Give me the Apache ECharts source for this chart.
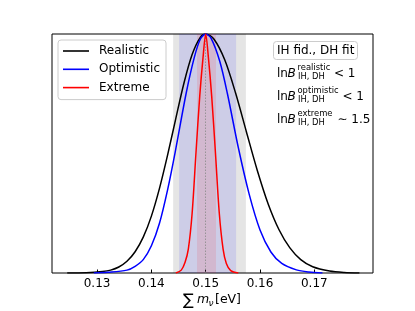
<!DOCTYPE html>
<html>
<head>
<meta charset="utf-8">
<script src="https://cdn.jsdelivr.net/npm/echarts@6/dist/echarts.min.js"></script>
<style>
html,body{margin:0;padding:0;background:#fff;}
#chart{width:415px;height:311px;}
</style>
</head>
<body>
<div id="chart"></div>
<script>
// ---- data ----
const xTicks = [0.13, 0.14, 0.15, 0.16, 0.17];
const seriesNames = ['Realistic', 'Optimistic', 'Extreme'];

const realistic = [
  [0.1245,0.000],[0.1280,0.001],[0.1310,0.006],[0.1325,0.012],[0.1340,0.025],
  [0.1355,0.049],[0.1370,0.089],[0.1385,0.150],[0.1400,0.238],[0.1415,0.355],
  [0.1430,0.495],[0.1445,0.647],[0.1460,0.795],[0.1475,0.914],[0.1490,0.986],
  [0.1500,1.000],[0.1515,0.979],[0.1535,0.892],[0.1555,0.753],[0.1575,0.590],
  [0.1595,0.429],[0.1615,0.289],[0.1635,0.181],[0.1655,0.105],[0.1675,0.056],
  [0.1697,0.026],[0.1728,0.008],[0.1755,0.002],[0.1783,0.000]
];
const optimistic = [
  [0.1294,0.000],[0.1320,0.003],[0.1355,0.012],[0.1370,0.028],[0.1385,0.056],
  [0.1400,0.114],[0.1415,0.209],[0.1430,0.350],[0.1444,0.508],[0.1464,0.752],
  [0.1479,0.902],[0.1490,0.978],[0.1500,1.000],[0.1510,0.982],[0.1526,0.885],
  [0.1540,0.750],[0.1560,0.525],[0.1580,0.330],[0.1600,0.180],[0.1620,0.088],
  [0.1640,0.040],[0.1667,0.013],[0.1690,0.004],[0.1715,0.000]
];
const extreme = [
  [0.1445,0.000],[0.1455,0.012],[0.1462,0.045],[0.1468,0.100],[0.1475,0.250],
  [0.1482,0.500],[0.1489,0.740],[0.1495,0.900],[0.1500,1.000],[0.1505,0.900],
  [0.1511,0.740],[0.1518,0.500],[0.1525,0.250],[0.1532,0.100],[0.1538,0.040],
  [0.1546,0.010],[0.1560,0.000]
];
const realisticBand = [0.1440, 0.1574];
const optimisticBand = [0.1451, 0.1556];
const extremeBand = [0.1484, 0.1519];
const meanValue = 0.15;
const xRange = [0.1217, 0.1808];

// ---- chart ----
const FONT = 'DejaVu Sans';
const chart = echarts.init(document.getElementById('chart'), null, {renderer: 'canvas'});

function lineSeries(name, data, color, z) {
  return {
    name: name, type: 'line', data: data, symbol: 'none', showSymbol: false,
    smooth: 0.3, z: z, silent: true,
    lineStyle: {color: color, width: 1.5}, itemStyle: {color: color}
  };
}

const mainY = [73.5, 97, 119.5];
const supTexts = ['realistic', 'optimistic', 'extreme'];
const relTexts = ['< 1', '< 1', '\u223C 1.5'];
const relX = [334, 342.5, 337.5];
const graphics = [];
// "IH fid., DH fit" box
graphics.push({type: 'rect', shape: {x: 273.5, y: 41.5, width: 84, height: 18, r: 3},
  style: {fill: '#fff', stroke: '#cccccc', lineWidth: 1}, z: 100});
graphics.push({type: 'text', x: 277, y: 50.7, z: 101,
  style: {text: 'IH fid., DH fit', font: '12px "' + FONT + '"', fill: '#000', verticalAlign: 'middle'}});
for (let i = 0; i < 3; i++) {
  const y = mainY[i];
  graphics.push({type: 'text', x: 277, y: y, z: 101,
    style: {text: 'ln', font: '12px "' + FONT + '"', fill: '#000', verticalAlign: 'middle'}});
  graphics.push({type: 'text', x: 287.5, y: y, z: 101,
    style: {text: 'B', font: 'italic 12px "' + FONT + '"', fill: '#000', verticalAlign: 'middle'}});
  graphics.push({type: 'text', x: 297.5, y: y - 6, z: 101,
    style: {text: supTexts[i], font: '8.4px "' + FONT + '"', fill: '#000', verticalAlign: 'middle'}});
  graphics.push({type: 'text', x: 298, y: y + 3.2, z: 101,
    style: {text: 'IH, DH', font: '8.4px "' + FONT + '"', fill: '#000', verticalAlign: 'middle'}});
  graphics.push({type: 'text', x: relX[i], y: y, z: 101,
    style: {text: relTexts[i], font: '12px "' + FONT + '"', fill: '#000', verticalAlign: 'middle'}});
}
// x-axis title: ∑ m_ν [eV]
graphics.push({type: 'text', x: 183, y: 301, style: {text: '\u2211', font: '16px "' + FONT + '"', fill: '#000', verticalAlign: 'middle'}});
graphics.push({type: 'text', x: 197, y: 300, style: {text: 'm', font: 'italic 12.5px "' + FONT + '"', fill: '#000', verticalAlign: 'middle'}});
graphics.push({type: 'text', x: 208.5, y: 304, style: {text: '\u03BD', font: 'italic 9px "' + FONT + '"', fill: '#000', verticalAlign: 'middle'}});
graphics.push({type: 'text', x: 215, y: 300, style: {text: '[eV]', font: '12.5px "' + FONT + '"', fill: '#000', verticalAlign: 'middle'}});

const option = {
  animation: false,
  backgroundColor: '#ffffff',
  textStyle: {fontFamily: FONT},
  grid: {left: 52, right: 42, top: 34, bottom: 38, show: true, borderColor: '#000', borderWidth: 1, backgroundColor: 'transparent'},
  legend: {
    data: seriesNames, orient: 'vertical', left: 58, top: 40,
    icon: 'rect', itemWidth: 26, itemHeight: 1.6, itemGap: 6.3, padding: [5, 6, 6, 5],
    backgroundColor: '#fff', borderColor: '#cccccc', borderWidth: 1, borderRadius: 3,
    textStyle: {fontSize: 12, lineHeight: 12, fontFamily: FONT, color: '#000', padding: [0, 0, 0, 5]},
    selectedMode: false, z: 50
  },
  xAxis: {
    type: 'value', min: xRange[0], max: xRange[1],
    axisLine: {show: false},
    axisTick: {show: true, inside: true, length: 3.5, customValues: xTicks, lineStyle: {color: '#000', width: 1}},
    axisLabel: {show: true, customValues: xTicks, formatter: v => v.toFixed(2), fontSize: 12, color: '#000', fontFamily: FONT, margin: 5},
    splitLine: {show: false}
  },
  yAxis: {
    type: 'value', min: 0, max: 1, show: false,
    splitLine: {show: false}
  },
  graphic: graphics,
  series: [
    {
      name: 'bands', type: 'line', data: [], z: 1, silent: true,
      markArea: {
        silent: true,
        data: [
          [{xAxis: realisticBand[0], itemStyle: {color: 'rgba(0,0,0,0.1)'}}, {xAxis: realisticBand[1]}],
          [{xAxis: optimisticBand[0], itemStyle: {color: 'rgba(0,0,255,0.1)'}}, {xAxis: optimisticBand[1]}],
          [{xAxis: extremeBand[0], itemStyle: {color: 'rgba(255,0,0,0.1)'}}, {xAxis: extremeBand[1]}]
        ]
      },
      markLine: {
        silent: true, symbol: 'none', label: {show: false},
        lineStyle: {color: '#888', type: [1.5, 1.5], width: 0.8},
        data: [{xAxis: meanValue}]
      }
    },
    lineSeries(seriesNames[0], realistic, '#000000', 3),
    lineSeries(seriesNames[1], optimistic, '#0000ff', 4),
    lineSeries(seriesNames[2], extreme, '#ff0000', 5)
  ]
};
chart.setOption(option);
</script>
</body>
</html>
